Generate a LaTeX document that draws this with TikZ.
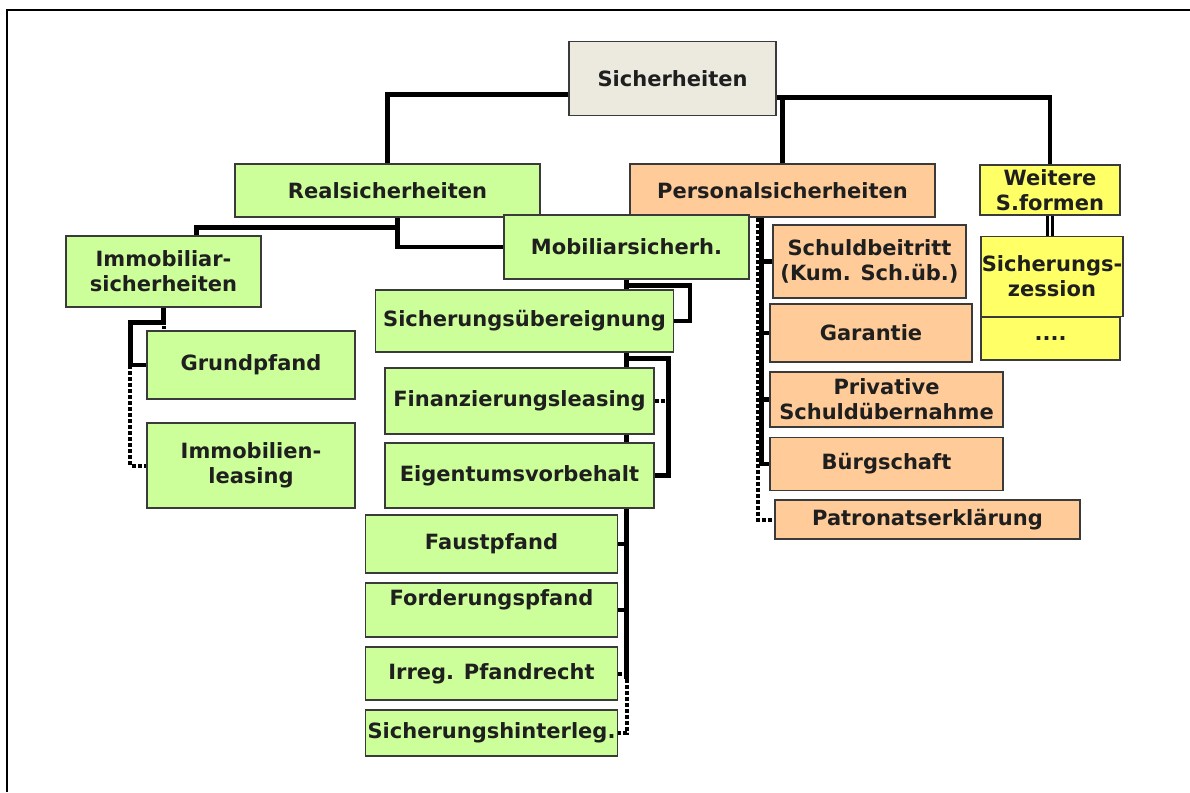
\documentclass[tikz,border=0pt]{standalone}
\usepackage{fontspec}
\setmainfont{DejaVu Sans}
\usetikzlibrary{backgrounds}
\definecolor{realgreen}{HTML}{CCFF99}
\definecolor{persorange}{HTML}{FFCC99}
\definecolor{otheryellow}{HTML}{FFFF66}
\definecolor{rootgray}{HTML}{ECE9DF}
\definecolor{boxline}{HTML}{3A3A3A}
\begin{document}
\begin{tikzpicture}[x = 1pt, y = -1pt]
            \tikzset{box/.style = {shape=rectangle, draw=boxline, line width=1.3pt, inner sep=0pt, align=center, text=black!88, font=\fontsize{21}{25}\selectfont\bfseries}}
            \tikzset{rootbox/.style = {box, fill=rootgray}}
            \tikzset{realbox/.style = {box, fill=realgreen}}
            \tikzset{persbox/.style = {box, fill=persorange}}
            \tikzset{otherbox/.style = {box, fill=otheryellow}}
            \tikzset{edge/.style = {line width=4.5pt}}
            \tikzset{dotedge/.style = {line width=4pt, dash pattern=on 4pt off 2pt}}
            \tikzset{twoedge/.style = {line width=2.5pt, double, double distance=2.5pt}}

            \useasboundingbox (0, 0) rectangle (1190, 792);
            \draw[line width=1.8pt] (7, 792) -- (7, 10) -- (1190, 10);

            \node[rootbox, minimum width=207pt, minimum height=74pt] (0) at (672.5, 78.5) {Sicherheiten};

            \node[realbox, minimum width=305pt, minimum height=53pt] (1) at (387.5, 190.5) {Realsicherheiten};
            \node[persbox, minimum width=305pt, minimum height=53pt] (2) at (782.5, 190.5) {Personalsicherheiten};
            \node[otherbox, minimum width=140pt, minimum height=50pt] (3) at (1050, 190) {Weitere\\S.formen};

            \node[otherbox, minimum width=139pt, minimum height=43pt] (5) at (1050.5, 338.5) {....};
            \node[otherbox, minimum width=142pt, minimum height=80pt] (4) at (1052, 276.5) {Sicherungs-\\zession};

            \node[realbox, minimum width=195pt, minimum height=71pt] (6) at (163.5, 271.5) {Immobiliar-\\sicherheiten};
            \node[realbox, minimum width=245pt, minimum height=64pt] (7) at (626.5, 247) {Mobiliarsicherh.};

            \node[realbox, minimum width=208pt, minimum height=68pt] (8) at (251, 365) {Grundpfand};
            \node[realbox, minimum width=208pt, minimum height=85pt] (9) at (251, 465.5) {Immobilien-\\leasing};

            \node[realbox, minimum width=298pt, minimum height=62pt] (10) at (524.5, 321) {Sicherungsübereignung};
            \node[realbox, minimum width=269pt, minimum height=66pt] (11) at (519.5, 401) {Finanzierungsleasing};
            \node[realbox, minimum width=269pt, minimum height=65pt] (12) at (519.5, 475.5) {Eigentumsvorbehalt};
            \node[realbox, minimum width=252pt, minimum height=58pt] (13) at (491.5, 544) {Faustpfand};
            \node[realbox, minimum width=252pt, minimum height=54pt] (14) at (491.5, 610) {Forderungspfand\\\mbox{}};
            \node[realbox, minimum width=252pt, minimum height=53pt] (15) at (491.5, 673.5) {Irreg. Pfandrecht};
            \node[realbox, minimum width=252pt, minimum height=46pt] (16) at (491.5, 733) {Sicherungshinterleg.};

            \node[persbox, minimum width=193pt, minimum height=73pt] (17) at (869.5, 261.5) {Schuldbeitritt\\(Kum. Sch.üb.)};
            \node[persbox, minimum width=202pt, minimum height=58pt] (18) at (871, 333) {Garantie};
            \node[persbox, minimum width=233pt, minimum height=55pt] (19) at (886.5, 399.5) {Privative\\Schuldübernahme};
            \node[persbox, minimum width=233pt, minimum height=53pt] (20) at (886.5, 464) {Bürgschaft};
            \node[persbox, minimum width=305pt, minimum height=39pt] (21) at (927.5, 519.5) {Patronatserklärung};

            \begin{scope}[on background layer]
            \draw[edge] ([yshift=-16pt]0.west) -| (1.north);
            \draw[edge] ([yshift=-19pt]0.east) -| (3.north);
            \draw[edge] (2.north) |- ([yshift=-19pt]0.east);
            \draw[twoedge] (3.south) -- (3.south |- 4.north);

            \draw[edge] ([xshift=10pt]1.south) |- (7.west);
            \draw[edge] ([xshift=10pt]1.south) -- ++(0, 10) -| ([xshift=33pt]6.north);

            \draw[dotedge] (6.south) -- ++(0, 21);
            \draw[edge] (6.south) -- ++(0, 15) -| ([xshift=-16pt]8.west) -- (8.west);
            \draw[dotedge] ([xshift=-16pt]8.west) |- (9.west);

            \draw[edge] (7.south) -- ++(0, 6) -| ([xshift=16pt]10.east) -- (10.east);
            \draw[edge] (7.south |- 10.south) -- ++(0, 6) -| ([xshift=14pt]12.east) -- (12.east);
            \draw[dotedge] (11.east) -- ([xshift=14pt]11.east);
            \draw[edge] (7.south) -- (7.south |- 15.east) -- ++(0, 5);
            \draw[edge] (13.east) -- (7.south |- 13.east);
            \draw[edge] (14.east) -- (7.south |- 14.east);
            \draw[dotedge] (15.east) -- (7.south |- 15.east);
            \draw[dotedge] (7.south |- 15.east) ++(0, 5) -- (7.south |- 16.east) -- (16.east);

            \draw[dotedge] ([xshift=-25pt]2.south) |- (21.west);
            \draw[edge] ([xshift=-21pt]2.south) |- (20.west);
            \draw[edge] (17.west) -- ([xshift=-21pt]2.south |- 17.west);
            \draw[edge] (18.west) -- ([xshift=-21pt]2.south |- 18.west);
            \draw[edge] (19.west) -- ([xshift=-21pt]2.south |- 19.west);
            \end{scope}
        \end{tikzpicture}
\end{document}
